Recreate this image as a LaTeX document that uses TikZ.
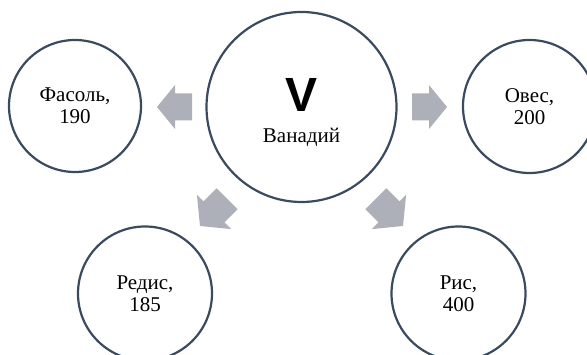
\documentclass[tikz,border=0pt]{standalone}
\usepackage{fontspec}
\setmainfont{Liberation Serif}
\newfontfamily\vfont{Liberation Sans}
\definecolor{ringcol}{HTML}{3A4A5F}
\definecolor{arrcol}{HTML}{ADB0B8}
\begin{document}
\begin{tikzpicture}[x=1pt,y=1pt,
  ring/.style={circle,draw=ringcol,line width=2.2pt,fill=white,inner sep=0pt,align=center,
    font=\fontsize{21}{22}\selectfont},
  blockarrow/.style={fill=arrcol,draw=none}]
\useasboundingbox (0,0) rectangle (587,355);
\node[ring,minimum size=190pt] (v) at (301.5,248) {};
\node[font=\vfont\bfseries\fontsize{48}{48}\selectfont,inner sep=0pt] (vsym) at (301.5,260.5) {V};
\node[font=\fontsize{21}{22}\selectfont,inner sep=0pt,anchor=base] (vname) at (301.5,212) {Ванадий};
\node[ring,minimum size=132pt] (fas) at (75,249) {Фасоль,\\190};
\node[ring,minimum size=133pt] (oves) at (529.5,248.5) {Овес,\\200};
\node[ring,minimum size=134pt] (red) at (145,61.5) {Редис,\\185};
\node[ring,minimum size=134pt] (ris) at (458.5,61.5) {Рис,\\400};
\foreach \x/\y/\r/\s in {157/248/180/1, 447/248/0/1, 200/129/-135/1.1, 403/129/-45/1.1}{
  \fill[blockarrow,shift={(\x,\y)},rotate=\r,scale=\s]
    (0,0) -- (-18,22) -- (-18,13.5) -- (-35,13.5) -- (-35,-13.5) -- (-18,-13.5) -- (-18,-22) -- cycle;
}
\end{tikzpicture}
\end{document}
